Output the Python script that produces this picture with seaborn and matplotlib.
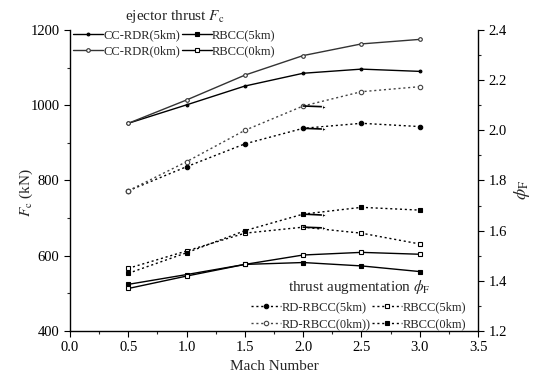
import numpy as np
import pandas as pd
import matplotlib
matplotlib.use("Agg")
import matplotlib.pyplot as plt
import seaborn as sns
from matplotlib.lines import Line2D
from matplotlib.ticker import MultipleLocator

# ---- data ----
mach = [0.5, 1.0, 1.5, 2.0, 2.5, 3.0]
fc_ccrdr_5km = [952, 1001, 1051, 1085, 1096, 1090]
fc_ccrdr_0km = [952, 1014, 1080, 1132, 1163, 1175]
fc_rbcc_5km = [524, 550, 577, 582, 573, 558]
fc_rbcc_0km = [513, 546, 577, 602, 609, 604]
phi_rdrbcc_5km = [1.759, 1.855, 1.946, 2.008, 2.028, 2.015]
phi_rdrbcc_0km = [1.759, 1.875, 2.000, 2.097, 2.154, 2.174]
phi_rbcc_5km = [1.450, 1.519, 1.590, 1.614, 1.590, 1.547]
phi_rbcc_0km = [1.430, 1.512, 1.600, 1.666, 1.693, 1.682]
# short stray segments visible in the original near Mach 2.0-2.2
stray_x = [2.0, 2.18]
stray_phi = [[2.008, 2.005], [2.097, 2.094], [1.614, 1.611], [1.666, 1.662]]

# legend order (column-wise fill gives row layout of the original)
labels_fc = ["CC-RDR(5km)", "CC-RDR(0km)", "RBCC(5km)", "RBCC(0km)"]
labels_phi = ["RD-RBCC(5km)", "RD-RBCC(0km))", "RBCC(5km)", "RBCC(0km)"]

sns.set_style("ticks")
plt.rcParams["font.family"] = ["Liberation Serif", "DejaVu Serif"]
plt.rcParams["mathtext.fontset"] = "stix"

fig = plt.figure(figsize=(5.36, 3.81), dpi=100)
ax = fig.add_axes([0.1306, 0.1312, 0.7612, 0.7901])
ax2 = ax.twinx()

dot = (0, (1.5, 2.0))
st_fc = {
    "CC-RDR(5km)": dict(marker="o", markersize=2.0, markerfacecolor="k", color="k"),
    "CC-RDR(0km)": dict(marker="o", markersize=2.6, markerfacecolor="white", color="#333333"),
    "RBCC(5km)": dict(marker="s", markersize=3.0, markerfacecolor="k", color="k"),
    "RBCC(0km)": dict(marker="s", markersize=3.0, markerfacecolor="white", color="k"),
}
st_phi = {
    "RD-RBCC(5km)": dict(marker="o", markersize=3.2, markerfacecolor="k", color="k"),
    "RBCC(5km)": dict(marker="s", markersize=3.0, markerfacecolor="white", color="k"),
    "RD-RBCC(0km))": dict(marker="o", markersize=3.2, markerfacecolor="white", color="#444444"),
    "RBCC(0km)": dict(marker="s", markersize=3.0, markerfacecolor="k", color="k"),
}

fc_series = {"CC-RDR(5km)": fc_ccrdr_5km, "CC-RDR(0km)": fc_ccrdr_0km,
             "RBCC(5km)": fc_rbcc_5km, "RBCC(0km)": fc_rbcc_0km}
phi_series = {"RD-RBCC(5km)": phi_rdrbcc_5km, "RD-RBCC(0km))": phi_rdrbcc_0km,
              "RBCC(5km)": phi_rbcc_5km, "RBCC(0km)": phi_rbcc_0km}

for name, vals in fc_series.items():
    s = st_fc[name]
    sns.lineplot(x=mach, y=vals, ax=ax, color=s["color"], marker=s["marker"],
                 markersize=s["markersize"], markerfacecolor=s["markerfacecolor"],
                 markeredgecolor=s["color"], markeredgewidth=0.8, linewidth=1.0,
                 legend=False)

for name, vals in phi_series.items():
    s = st_phi[name]
    sns.lineplot(x=mach, y=vals, ax=ax2, color=s["color"], marker=s["marker"],
                 markersize=s["markersize"], markerfacecolor=s["markerfacecolor"],
                 markeredgecolor=s["color"], markeredgewidth=0.8, linewidth=1.0,
                 linestyle=dot, legend=False)

for yy in stray_phi:
    sns.lineplot(x=stray_x, y=yy, ax=ax2, color="k", linewidth=1.2,
                 marker=">", markersize=3.0, markevery=[1], legend=False)

ax.set_xlim(0, 3.5)
ax.set_ylim(400, 1200)
ax2.set_ylim(1.2, 2.4)
ax.xaxis.set_major_locator(MultipleLocator(0.5))
ax.xaxis.set_minor_locator(MultipleLocator(0.25))
ax.yaxis.set_major_locator(MultipleLocator(200))
ax.yaxis.set_minor_locator(MultipleLocator(100))
ax2.yaxis.set_major_locator(MultipleLocator(0.2))
ax2.yaxis.set_minor_locator(MultipleLocator(0.1))
ax.xaxis.set_major_formatter(matplotlib.ticker.FormatStrFormatter("%.1f"))
ax2.yaxis.set_major_formatter(matplotlib.ticker.FormatStrFormatter("%.1f"))

for a in (ax, ax2):
    a.spines["top"].set_visible(False)
    a.tick_params(which="major", length=4, width=0.8, direction="out", labelsize=10.5, colors="k")
    a.tick_params(which="minor", length=2.5, width=0.8, direction="out")
    for sp in a.spines.values():
        sp.set_linewidth(1.0)
        sp.set_color("k")
ax.spines["right"].set_visible(False)
ax2.spines["left"].set_visible(False)
ax2.spines["bottom"].set_visible(False)
ax.grid(False)
ax2.grid(False)

ax.set_xlabel("Mach Number", fontsize=11)
ax.set_ylabel(r"$F_{\rm c}$ (kN)", fontsize=11)
ax.yaxis.set_label_coords(-0.085, 0.46)
ax2.set_ylabel(r"$\phi_{\rm F}$", fontsize=13)
ax2.yaxis.set_label_coords(1.083, 0.47)

def handle(s, ls):
    return Line2D([], [], color=s["color"], marker=s["marker"], markersize=s["markersize"],
                  markerfacecolor=s["markerfacecolor"], markeredgecolor=s["color"],
                  markeredgewidth=0.8, linewidth=1.0, linestyle=ls)

h1 = [handle(st_fc[l], "-") for l in labels_fc]
leg1 = ax.legend(h1, labels_fc, ncol=2, title=r"ejector thrust $F_{\rm c}$",
                 loc="upper left", bbox_to_anchor=(0.136, 0.98),
                 bbox_transform=fig.transFigure, frameon=False, fontsize=9,
                 title_fontsize=11, handlelength=2.4, handletextpad=0.05,
                 columnspacing=0.1, borderpad=0.0, labelspacing=0.35,
                 borderaxespad=0.0)

h2 = [handle(st_phi[l], dot) for l in labels_phi]
leg2 = ax2.legend(h2, labels_phi, ncol=2, title=r"thrust augmentation $\phi_{\rm F}$",
                  loc="upper left", bbox_to_anchor=(0.469, 0.27),
                  bbox_transform=fig.transFigure, frameon=False, fontsize=9,
                  title_fontsize=11, handlelength=2.4, handletextpad=0.05,
                  columnspacing=0.1, borderpad=0.0, labelspacing=0.4,
                  borderaxespad=0.0)

fig.savefig("out.png", dpi=100)
